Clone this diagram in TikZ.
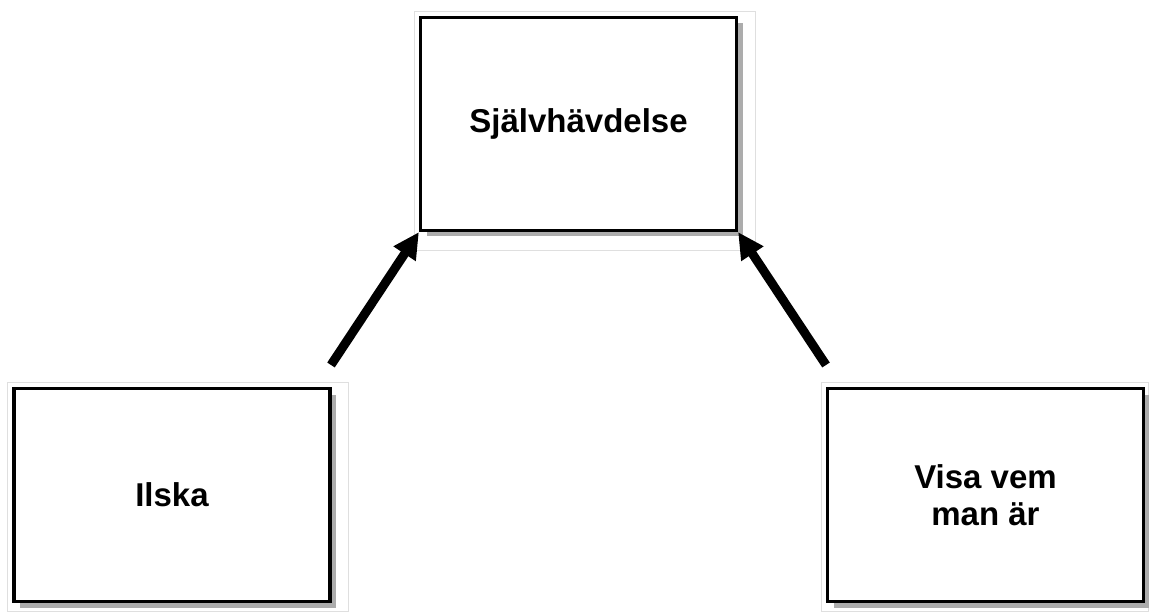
\documentclass[tikz,border=0pt]{standalone}
\usepackage{fontspec}
\setmainfont{Liberation Sans}
\usetikzlibrary{arrows.meta,shadows}
\begin{document}
\begin{tikzpicture}[x=1pt,y=-1pt,
  card/.style={draw=black, line width=3.2pt, fill=white, minimum width=316pt, minimum height=213pt,
    inner sep=0pt, align=center, font=\bfseries\fontsize{33}{37}\selectfont,
    drop shadow={shadow xshift=6pt, shadow yshift=-6pt, fill=gray!65, opacity=1}},
  frame/.style={draw=gray!25, line width=0.8pt},
  link/.style={line width=9pt, -{Triangle[length=26pt,width=25pt]}, shorten <=0pt}]
\useasboundingbox (0,0) rectangle (1149,612);
% light outer frames
\draw[frame] (414,11) rectangle (755,250);
\draw[frame] (7,382) rectangle (348,611);
\draw[frame] (821,382) rectangle (1148,611);
% cards
\node[card] (top) at (578.5,124) {Självhävdelse};
\node[card] (left) at (172,495) {Ilska};
\node[card] (right) at (985.5,495) {Visa vem\\man är};
% arrow tails
\coordinate (lt) at (331,365);
\coordinate (rt) at (826,365);
\draw[link] (lt) -- (top.south west);
\draw[link] (rt) -- (top.south east);
\end{tikzpicture}
\end{document}
